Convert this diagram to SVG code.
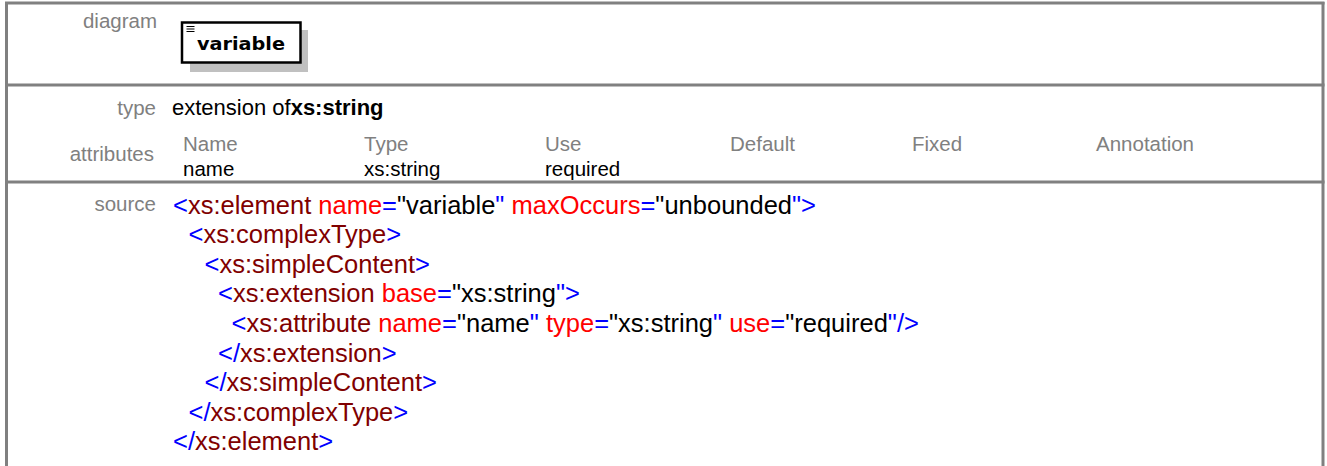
<svg xmlns="http://www.w3.org/2000/svg" width="1327" height="466" viewBox="0 0 1327 466">
<style>
  text { font-family: "Liberation Sans", Arial, sans-serif; }
  .frame { stroke: #808080; stroke-width: 3; fill: none; }
  .lbl { font-size: 20.5px; fill: #808080; text-anchor: end; }
  .hdr { font-size: 20.5px; fill: #808080; }
  .val { font-size: 20.5px; fill: #000000; }
  .typ { font-size: 22px; fill: #000000; }
  .src { font-size: 25.5px; fill: #000000; white-space: pre; }
  .b { fill: #0000ff; }
  .e { fill: #800000; }
  .a { fill: #ff0000; }
  .v { fill: #000000; }
  .nodebox { fill: #ffffff; stroke: #000000; stroke-width: 2.5; }
  .shadow { fill: #c0c0c0; }
  .nodetxt { font-family: "DejaVu Sans", "Liberation Sans", sans-serif; font-weight: bold; font-size: 17px; fill: #000000; }
</style>
<rect x="0" y="0" width="1327" height="466" fill="#ffffff"/>
<g id="frame">
  <line class="frame" x1="5" y1="3" x2="1324.5" y2="3"/>
  <line class="frame" x1="6.5" y1="2" x2="6.5" y2="466"/>
  <line class="frame" x1="1323" y1="2" x2="1323" y2="466"/>
  <line class="frame" x1="5" y1="85" x2="1324.5" y2="85"/>
  <line class="frame" x1="5" y1="182" x2="1324.5" y2="182"/>
</g>
<g id="labels">
  <text class="lbl" x="157" y="28">diagram</text>
  <text class="lbl" x="156" y="115">type</text>
  <text class="lbl" x="154" y="161">attributes</text>
  <text class="lbl" x="156" y="210.5">source</text>
</g>
<g id="node-variable">
  <rect class="shadow" x="190" y="30" width="118" height="42"/>
  <rect class="nodebox" x="182" y="22.5" width="118.5" height="40"/>
  <line x1="186.5" y1="26.5" x2="194.5" y2="26.5" stroke="#000" stroke-width="1"/>
  <line x1="186.5" y1="29" x2="194.5" y2="29" stroke="#000" stroke-width="1"/>
  <line x1="186.5" y1="31.5" x2="194.5" y2="31.5" stroke="#000" stroke-width="1"/>
  <text class="nodetxt" x="197" y="49.5" textLength="88" lengthAdjust="spacingAndGlyphs">variable</text>
</g>
<g id="connectors"/>
<g id="type-row">
  <text class="typ" x="172" y="115">extension of<tspan font-weight="bold">xs:string</tspan></text>
</g>
<g id="attributes-table">
  <text class="hdr" x="183" y="151">Name</text>
  <text class="hdr" x="364" y="151">Type</text>
  <text class="hdr" x="545" y="151">Use</text>
  <text class="hdr" x="730" y="151">Default</text>
  <text class="hdr" x="912" y="151">Fixed</text>
  <text class="hdr" x="1096" y="151">Annotation</text>
  <text class="val" x="183" y="176">name</text>
  <text class="val" x="364" y="176">xs:string</text>
  <text class="val" x="545" y="176">required</text>
</g>
<g id="source">
  <text class="src" x="173" y="213.5"><tspan class="b">&lt;</tspan><tspan class="e">xs:element</tspan><tspan class="a"> name</tspan><tspan class="b">=</tspan><tspan class="v">"variable</tspan><tspan class="b">"</tspan><tspan class="a"> maxOccurs</tspan><tspan class="b">=</tspan><tspan class="v">"unbounded</tspan><tspan class="b">"&gt;</tspan></text>
  <text class="src" x="188.5" y="243.1"><tspan class="b">&lt;</tspan><tspan class="e">xs:complexType</tspan><tspan class="b">&gt;</tspan></text>
  <text class="src" x="204.5" y="272.7"><tspan class="b">&lt;</tspan><tspan class="e">xs:simpleContent</tspan><tspan class="b">&gt;</tspan></text>
  <text class="src" x="218" y="302.3"><tspan class="b">&lt;</tspan><tspan class="e">xs:extension</tspan><tspan class="a"> base</tspan><tspan class="b">=</tspan><tspan class="v">"xs:string</tspan><tspan class="b">"&gt;</tspan></text>
  <text class="src" x="231.5" y="331.9"><tspan class="b">&lt;</tspan><tspan class="e">xs:attribute</tspan><tspan class="a"> name</tspan><tspan class="b">=</tspan><tspan class="v">"name</tspan><tspan class="b">"</tspan><tspan class="a"> type</tspan><tspan class="b">=</tspan><tspan class="v">"xs:string</tspan><tspan class="b">"</tspan><tspan class="a"> use</tspan><tspan class="b">=</tspan><tspan class="v">"required</tspan><tspan class="b">"/&gt;</tspan></text>
  <text class="src" x="218" y="361.5"><tspan class="b">&lt;/</tspan><tspan class="e">xs:extension</tspan><tspan class="b">&gt;</tspan></text>
  <text class="src" x="204.5" y="391.1"><tspan class="b">&lt;/</tspan><tspan class="e">xs:simpleContent</tspan><tspan class="b">&gt;</tspan></text>
  <text class="src" x="188.5" y="420.7"><tspan class="b">&lt;/</tspan><tspan class="e">xs:complexType</tspan><tspan class="b">&gt;</tspan></text>
  <text class="src" x="173" y="450.3"><tspan class="b">&lt;/</tspan><tspan class="e">xs:element</tspan><tspan class="b">&gt;</tspan></text>
</g>
</svg>
